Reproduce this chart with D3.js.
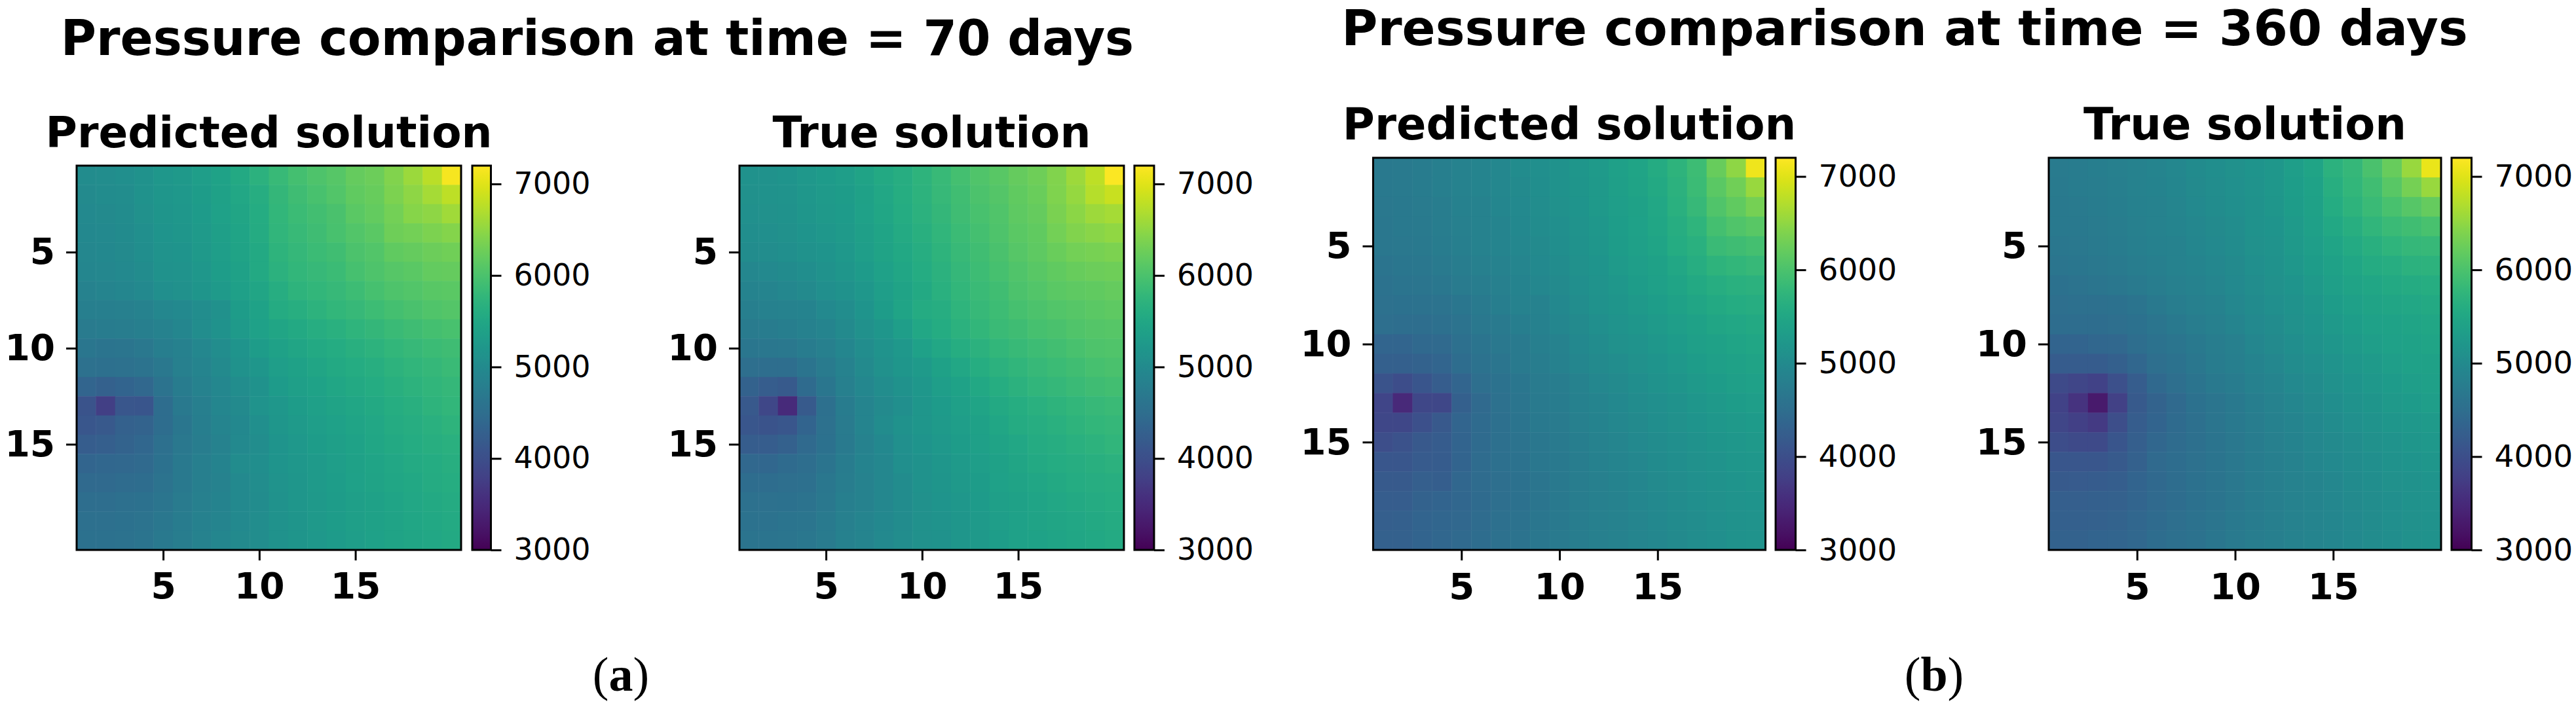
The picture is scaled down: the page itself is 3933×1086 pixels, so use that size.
<!DOCTYPE html>
<html>
<head>
<meta charset="utf-8">
<script src="https://d3js.org/d3.v7.min.js"></script>
<style>
  html, body { margin: 0; padding: 0; background: #fff; }
  svg { display: block; }
  text { font-family: "DejaVu Sans", sans-serif; fill: #000; }
  .axis text { font-weight: bold; }
  .axis .domain { display: none; }
  .cbar .domain { display: none; }
</style>
</head>
<body>
<svg width="3933" height="1086"></svg>
<script>
// pressure grids, row 1 is the top row
var predicted70 = [
  [5020,5040,5070,5140,5230,5260,5340,5420,5530,5680,5830,5950,6020,6090,6200,6260,6400,6570,6770,7150],
  [5000,5020,5050,5120,5210,5240,5310,5400,5500,5620,5780,5900,5980,6060,6170,6230,6370,6490,6640,6780],
  [4980,5000,5030,5100,5190,5220,5290,5380,5470,5590,5760,5860,5930,6000,6130,6190,6310,6430,6480,6600],
  [4960,4980,5010,5080,5170,5200,5270,5360,5450,5560,5740,5830,5900,5970,6060,6130,6270,6310,6370,6420],
  [4940,4960,4990,5060,5150,5180,5250,5340,5430,5530,5720,5800,5860,5920,6010,6060,6170,6210,6260,6290],
  [4920,4940,4970,5030,5120,5160,5230,5320,5400,5540,5680,5760,5820,5860,5960,6020,6090,6130,6190,6210],
  [4870,4890,4930,4980,5070,5110,5190,5270,5370,5470,5620,5710,5770,5820,5880,5960,6030,6060,6110,6130],
  [4800,4800,4820,4850,4950,4980,5050,5100,5300,5420,5560,5630,5700,5760,5820,5880,5950,6000,6040,6070],
  [4730,4740,4770,4790,4870,4930,5050,5120,5280,5380,5470,5540,5610,5670,5730,5780,5840,5900,5950,5980],
  [4650,4620,4640,4680,4780,4830,4950,5050,5170,5300,5400,5470,5530,5590,5650,5700,5760,5810,5860,5900],
  [4550,4530,4550,4600,4680,4810,4890,5000,5120,5200,5340,5410,5470,5530,5590,5640,5700,5750,5800,5840],
  [4350,4280,4340,4400,4600,4740,4850,4950,5050,5130,5290,5360,5420,5480,5540,5590,5650,5700,5750,5800],
  [4080,3780,4130,4100,4480,4690,4800,4920,5000,5150,5230,5300,5370,5430,5490,5540,5600,5650,5710,5760],
  [4120,4150,4280,4320,4480,4650,4780,4890,4960,5080,5200,5270,5330,5390,5450,5510,5560,5610,5660,5710],
  [4230,4250,4320,4380,4540,4680,4760,4860,4970,5040,5180,5240,5300,5360,5420,5480,5530,5580,5630,5670],
  [4350,4380,4410,4430,4560,4690,4790,4880,5020,5060,5170,5220,5280,5340,5400,5450,5500,5550,5590,5630],
  [4430,4440,4470,4490,4600,4700,4790,4860,4980,5040,5150,5210,5270,5320,5380,5430,5480,5520,5560,5600],
  [4500,4500,4530,4560,4640,4730,4810,4880,4980,5030,5140,5200,5260,5310,5360,5410,5460,5500,5540,5570],
  [4540,4540,4570,4600,4670,4750,4830,4900,4980,5040,5130,5190,5250,5300,5350,5400,5440,5480,5520,5550],
  [4570,4570,4590,4610,4690,4770,4840,4920,4990,5050,5130,5190,5240,5290,5340,5390,5430,5470,5500,5530]
];

var true70 = [
  [5120,5140,5180,5240,5290,5330,5430,5530,5620,5710,5830,5950,6040,6110,6200,6270,6400,6590,6780,7170],
  [5100,5120,5160,5220,5270,5310,5410,5510,5600,5700,5810,5920,6010,6080,6180,6240,6380,6540,6730,6840],
  [5090,5100,5140,5200,5250,5290,5390,5490,5580,5680,5780,5890,5980,6050,6150,6210,6350,6470,6580,6640],
  [5060,5080,5110,5170,5220,5270,5360,5460,5550,5650,5750,5860,5950,6020,6120,6180,6300,6400,6460,6500],
  [5020,5040,5080,5130,5180,5240,5330,5430,5520,5620,5720,5830,5920,5990,6090,6150,6240,6310,6340,6370],
  [4950,4970,5010,5060,5130,5200,5290,5380,5480,5590,5690,5800,5880,5960,6050,6110,6180,6220,6260,6280],
  [4880,4900,4950,5000,5070,5130,5230,5330,5430,5530,5660,5770,5850,5920,6010,6060,6120,6150,6180,6210],
  [4800,4830,4850,4880,4980,5040,5180,5300,5450,5560,5620,5730,5810,5880,5960,6010,6060,6090,6130,6150],
  [4730,4750,4780,4830,4900,5000,5100,5210,5330,5500,5580,5690,5770,5840,5900,5960,6000,6040,6080,6100],
  [4650,4660,4680,4740,4820,4930,5040,5150,5240,5380,5500,5600,5680,5760,5830,5880,5930,5980,6020,6050],
  [4520,4500,4500,4620,4730,4870,4990,5100,5200,5280,5400,5500,5600,5680,5750,5810,5870,5920,5960,5990],
  [4300,4230,4180,4450,4650,4810,4950,5050,5140,5230,5330,5420,5520,5600,5680,5740,5800,5850,5890,5930],
  [4150,3900,3500,4180,4540,4740,4900,4990,5080,5200,5290,5370,5450,5530,5600,5670,5720,5770,5810,5850],
  [4130,4080,4120,4330,4550,4730,4900,5020,5130,5210,5270,5330,5400,5480,5560,5620,5670,5720,5760,5790],
  [4230,4230,4290,4430,4570,4720,4870,4960,5090,5180,5240,5300,5370,5440,5510,5570,5620,5670,5700,5740],
  [4400,4390,4450,4500,4620,4740,4880,4940,5070,5140,5210,5270,5340,5410,5470,5530,5580,5620,5650,5690],
  [4480,4480,4510,4540,4660,4760,4860,4940,5020,5120,5190,5250,5310,5380,5440,5490,5540,5580,5610,5640],
  [4550,4550,4570,4600,4680,4790,4870,4950,5020,5100,5170,5230,5290,5350,5410,5460,5500,5540,5570,5600],
  [4590,4590,4610,4640,4710,4810,4890,4960,5030,5100,5150,5210,5270,5330,5390,5430,5470,5510,5540,5570],
  [4610,4610,4630,4660,4730,4830,4900,4970,5040,5100,5140,5200,5260,5320,5380,5420,5460,5490,5520,5550]
];

var predicted360 = [
  [4700,4720,4750,4800,4860,4900,4950,5020,5080,5130,5200,5270,5370,5450,5560,5720,5880,6220,6480,7100],
  [4690,4710,4740,4790,4850,4890,4940,5000,5060,5120,5190,5260,5360,5430,5540,5690,5860,6130,6290,6560],
  [4680,4700,4730,4770,4830,4870,4920,4980,5040,5100,5170,5250,5340,5410,5510,5660,5820,6050,6180,6320],
  [4670,4690,4720,4760,4810,4860,4900,4960,5020,5080,5150,5230,5320,5390,5480,5620,5730,5950,6040,6110],
  [4660,4680,4700,4740,4790,4840,4890,4940,5000,5060,5130,5210,5300,5370,5450,5580,5670,5840,5900,5950],
  [4620,4650,4670,4710,4760,4810,4860,4910,4970,5030,5100,5180,5270,5340,5410,5510,5610,5720,5760,5810],
  [4580,4610,4640,4670,4730,4770,4820,4880,4940,5000,5070,5150,5230,5300,5370,5460,5540,5620,5660,5690],
  [4550,4560,4580,4600,4650,4720,4780,4850,4870,4960,5040,5120,5190,5260,5320,5400,5470,5540,5580,5610],
  [4520,4500,4500,4540,4600,4680,4720,4780,4830,4930,5000,5080,5150,5210,5270,5340,5410,5470,5510,5540],
  [4360,4350,4420,4440,4530,4620,4680,4720,4800,4860,4960,5030,5100,5160,5220,5290,5350,5410,5450,5480],
  [4270,4270,4300,4360,4490,4580,4640,4720,4770,4830,4920,4990,5050,5110,5170,5240,5300,5350,5400,5430],
  [4080,3980,4100,4230,4350,4520,4590,4650,4730,4770,4870,4940,5000,5060,5120,5190,5250,5300,5350,5380],
  [3860,3480,3900,3900,4270,4430,4550,4640,4710,4740,4830,4900,4960,5020,5080,5140,5200,5250,5300,5330],
  [3900,3900,4020,4150,4360,4450,4530,4620,4690,4730,4810,4880,4940,5000,5060,5110,5170,5220,5260,5290],
  [3990,4060,4150,4210,4330,4450,4530,4600,4670,4710,4780,4850,4910,4970,5030,5080,5140,5190,5230,5260],
  [4120,4120,4190,4200,4340,4470,4530,4580,4660,4700,4770,4830,4890,4950,5010,5060,5110,5160,5200,5230],
  [4180,4180,4250,4240,4380,4470,4520,4570,4640,4690,4760,4820,4880,4930,4990,5040,5090,5130,5170,5200],
  [4230,4230,4300,4340,4390,4460,4520,4570,4640,4690,4760,4810,4870,4920,4970,5020,5070,5110,5150,5180],
  [4260,4270,4330,4370,4410,4470,4530,4590,4650,4700,4760,4810,4860,4910,4960,5010,5050,5090,5130,5160],
  [4280,4290,4340,4390,4430,4490,4550,4600,4670,4710,4770,4810,4860,4910,4950,5000,5040,5080,5120,5150]
];

var true360 = [
  [4730,4750,4780,4810,4860,4890,4950,5010,5060,5100,5170,5230,5340,5450,5690,5800,5990,6230,6560,7060],
  [4720,4740,4770,4800,4850,4880,4930,4990,5040,5090,5160,5220,5320,5420,5630,5760,5920,6110,6320,6560],
  [4700,4720,4750,4780,4830,4860,4910,4970,5020,5070,5140,5200,5300,5400,5580,5710,5840,5980,6100,6210],
  [4690,4700,4730,4760,4810,4850,4890,4950,5000,5050,5120,5180,5280,5370,5520,5640,5740,5840,5920,5970],
  [4670,4680,4710,4740,4790,4830,4870,4930,4980,5030,5100,5160,5260,5340,5450,5550,5650,5730,5790,5810],
  [4630,4650,4680,4710,4760,4800,4850,4900,4950,5000,5070,5130,5220,5300,5410,5490,5570,5620,5680,5700],
  [4570,4600,4640,4670,4710,4760,4810,4860,4910,4970,5040,5100,5180,5250,5360,5430,5490,5530,5570,5600],
  [4520,4530,4540,4570,4620,4690,4760,4820,4850,4940,5010,5070,5140,5210,5300,5370,5430,5470,5510,5540],
  [4490,4490,4490,4510,4570,4630,4690,4760,4810,4890,4970,5030,5100,5170,5250,5320,5380,5420,5460,5490],
  [4330,4330,4380,4400,4500,4580,4630,4700,4760,4820,4930,4990,5060,5120,5200,5270,5330,5380,5420,5450],
  [4210,4200,4200,4270,4380,4510,4590,4660,4740,4790,4880,4950,5020,5080,5150,5220,5280,5330,5380,5410],
  [3950,3880,3830,4030,4230,4420,4520,4610,4690,4740,4830,4900,4970,5030,5100,5170,5240,5290,5330,5370],
  [3830,3620,3280,3820,4180,4320,4430,4560,4630,4700,4780,4850,4920,4990,5060,5130,5190,5250,5290,5330],
  [3880,3800,3720,4000,4230,4340,4450,4540,4630,4700,4770,4830,4900,4960,5020,5090,5150,5200,5240,5280],
  [3980,3950,3950,4100,4250,4390,4470,4540,4620,4680,4750,4810,4880,4940,4990,5050,5110,5160,5200,5240],
  [4120,4130,4130,4180,4290,4430,4490,4550,4620,4680,4740,4800,4860,4920,4970,5030,5080,5130,5170,5210],
  [4180,4190,4210,4240,4330,4420,4490,4560,4620,4680,4740,4790,4850,4900,4950,5010,5060,5100,5140,5180],
  [4250,4250,4270,4290,4360,4430,4490,4560,4620,4680,4740,4790,4840,4890,4940,4990,5040,5080,5120,5160],
  [4270,4270,4290,4320,4380,4450,4510,4580,4640,4690,4750,4790,4840,4890,4930,4980,5030,5070,5110,5140],
  [4300,4310,4330,4350,4410,4480,4530,4590,4650,4710,4760,4800,4840,4890,4930,4970,5020,5060,5100,5130]
];

var gridTicks = [5, 10, 15];
var barTicks = [3000, 4000, 5000, 6000, 7000];
var barDomain = [3000, 7200];

var svg = d3.select("svg");

var color = d3.scaleSequential(d3.interpolateViridis).domain(barDomain);

// gradient for the colorbars
var grad = svg.append("defs").append("linearGradient")
    .attr("id", "viridis")
    .attr("x1", 0).attr("x2", 0).attr("y1", 1).attr("y2", 0);
grad.selectAll("stop")
    .data(d3.range(0, 1.001, 0.02))
  .enter().append("stop")
    .attr("offset", function(d) { return d; })
    .attr("stop-color", function(d) { return d3.interpolateViridis(d); });

function drawPanel(title, grid, box, bar, size) {
  var x = d3.scaleLinear().domain([0.5, 20.5]).range([box.x0, box.x1]),
      y = d3.scaleLinear().domain([0.5, 20.5]).range([box.y0, box.y1]),
      cy = d3.scaleLinear().domain(barDomain).range([box.y1, box.y0]);

  var g = svg.append("g");

  grid.forEach(function(row, r) {
    g.selectAll(null)
        .data(row)
      .enter().append("rect")
        .attr("x", function(d, c) { return x(c + 0.5); })
        .attr("y", y(r + 0.5))
        .attr("width", x(1.5) - x(0.5) + 0.5)
        .attr("height", y(1.5) - y(0.5) + 0.5)
        .attr("fill", function(d) { return color(d); });
  });

  g.append("rect")
      .attr("x", box.x0).attr("y", box.y0)
      .attr("width", box.x1 - box.x0).attr("height", box.y1 - box.y0)
      .attr("fill", "none").attr("stroke", "#000").attr("stroke-width", 3);

  var xAxis = d3.axisBottom(x).tickValues(gridTicks).tickSize(16).tickPadding(19),
      yAxis = d3.axisLeft(y).tickValues(gridTicks).tickSize(16).tickPadding(17),
      barAxis = d3.axisRight(cy).tickValues(barTicks).tickFormat(d3.format("d")).tickSize(16).tickPadding(19);

  g.append("g").attr("class", "axis")
      .attr("transform", "translate(0," + box.y1 + ")")
      .call(xAxis)
      .style("font-size", size.tick + "px");

  g.append("g").attr("class", "axis")
      .attr("transform", "translate(" + box.x0 + ",0)")
      .call(yAxis)
      .style("font-size", size.tick + "px");

  g.append("rect")
      .attr("x", bar.x0).attr("y", box.y0)
      .attr("width", bar.x1 - bar.x0).attr("height", box.y1 - box.y0)
      .attr("fill", "url(#viridis)").attr("stroke", "#000").attr("stroke-width", 3);

  g.append("g").attr("class", "cbar")
      .attr("transform", "translate(" + bar.x1 + ",0)")
      .call(barAxis)
      .style("font-size", size.bar + "px");

  g.selectAll(".tick line").attr("stroke", "#000").attr("stroke-width", 3);
  g.selectAll("text").style("font-family", '"DejaVu Sans", sans-serif').attr("fill", "#000");

  g.append("text")
      .attr("x", (box.x0 + box.x1) / 2)
      .attr("y", box.y0 - 28)
      .attr("text-anchor", "middle")
      .style("font-size", size.sub + "px")
      .style("font-weight", "bold")
      .text(title);
}

var sizeA = {tick: 55, bar: 46, sub: 66},
    sizeB = {tick: 56, bar: 47, sub: 67};

drawPanel("Predicted solution", predicted70, {x0: 117, x1: 704, y0: 253, y1: 840}, {x0: 721, x1: 749.5}, sizeA);
drawPanel("True solution", true70, {x0: 1129, x1: 1716, y0: 253, y1: 840}, {x0: 1732, x1: 1762}, sizeA);
drawPanel("Predicted solution", predicted360, {x0: 2096.5, x1: 2695.5, y0: 241, y1: 840}, {x0: 2711, x1: 2741.5}, sizeB);
drawPanel("True solution", true360, {x0: 3128, x1: 3727, y0: 241, y1: 840}, {x0: 3743, x1: 3773.5}, sizeB);

// figure titles
svg.append("text")
    .attr("x", 912).attr("y", 84)
    .attr("text-anchor", "middle")
    .style("font-size", "74px").style("font-weight", "bold")
    .text("Pressure comparison at time = 70 days");

svg.append("text")
    .attr("x", 2908).attr("y", 69)
    .attr("text-anchor", "middle")
    .style("font-size", "75.3px").style("font-weight", "bold")
    .text("Pressure comparison at time = 360 days");

// sub figure letters
var letters = [["a", 948], ["b", 2953]];
letters.forEach(function(d) {
  var t = svg.append("text")
      .attr("x", d[1]).attr("y", 1055)
      .attr("text-anchor", "middle")
      .style("font-family", '"Liberation Serif", serif')
      .style("font-size", "74px");
  t.append("tspan").text("(");
  t.append("tspan").style("font-weight", "bold").text(d[0]);
  t.append("tspan").text(")");
});
</script>
</body>
</html>
